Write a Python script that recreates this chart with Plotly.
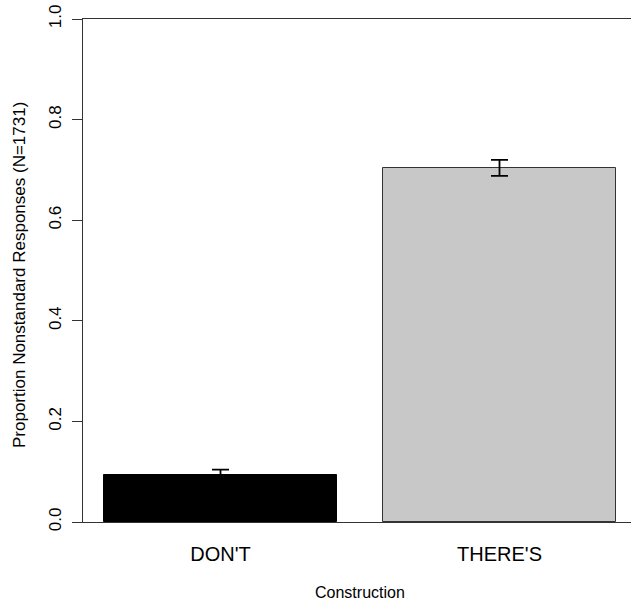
import plotly.graph_objects as go

# Proportion of nonstandard responses by construction, with error bars
constructions = ["DON'T", "THERE'S"]
proportions = [0.094, 0.704]
errors = [0.010, 0.016]
fill_colors = ["#000000", "#c8c8c8"]
edge_colors = ["#000000", "#333333"]

y_ticks = [0.0, 0.2, 0.4, 0.6, 0.8, 1.0]
y_tick_text = ["0.0", "0.2", "0.4", "0.6", "0.8", "1.0"]

FONT = "Liberation Sans, Arial, Helvetica, sans-serif"

fig = go.Figure()
fig.add_trace(go.Bar(
    x=[0, 1],
    y=proportions,
    width=0.835,
    marker=dict(color=fill_colors, line=dict(color=edge_colors, width=1)),
    error_y=dict(type="data", array=errors, visible=True,
                 color="#000000", thickness=1.8, width=8.5),
    showlegend=False,
    hoverinfo="skip",
))

fig.update_layout(
    width=631, height=604,
    margin=dict(l=83, r=0, t=19, b=82),
    paper_bgcolor="white", plot_bgcolor="white",
    font=dict(family=FONT, color="black"),
    bargap=0,
    xaxis=dict(
        range=[-0.4928, 1.4713],
        tickmode="array", tickvals=[0, 1], ticktext=constructions,
        tickfont=dict(size=20, family=FONT, color="black"),
        ticks="", ticklabelstandoff=14,
        showline=True, linecolor="#333333", linewidth=1, mirror=True,
        showgrid=False, zeroline=False,
        title=None,
    ),
    yaxis=dict(
        range=[0, 1.0],
        tickmode="array", tickvals=y_ticks, ticktext=y_tick_text,
        tickangle=-90,
        tickfont=dict(size=17, family=FONT, color="black"),
        ticks="outside", ticklen=10, tickwidth=1, tickcolor="#333333",
        ticklabelstandoff=4,
        showline=True, linecolor="#333333", linewidth=1, mirror=False,
        showgrid=False, zeroline=False,
        title=None,
    ),
    annotations=[
        dict(text="Construction", xref="paper", yref="paper",
             x=(220.5 + 499.5) / 2 / 548 - 83 / 548, y=0,
             yshift=-70, xanchor="center", yanchor="middle",
             showarrow=False, font=dict(size=16, family=FONT, color="black")),
        dict(text="Proportion Nonstandard Responses (N=1731)",
             xref="paper", yref="paper", x=0, y=0.491, xshift=-64,
             textangle=-90, xanchor="center", yanchor="middle",
             showarrow=False, font=dict(size=17, family=FONT, color="black")),
    ],
)

fig.write_html("out.html")
